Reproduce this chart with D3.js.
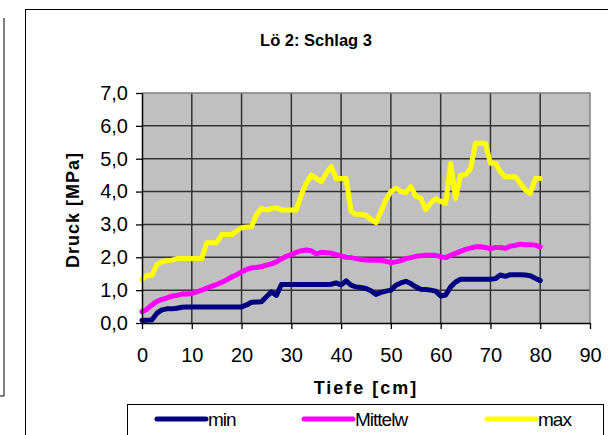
<!DOCTYPE html>
<html><head><meta charset="utf-8">
<script src="https://cdn.jsdelivr.net/npm/d3@7"></script>
<style>body{margin:0;background:#fff;}svg{display:block;font-family:"Liberation Sans",Arial,sans-serif;}</style>
</head><body>
<svg id="c" width="608" height="435"></svg>
<script>
const depth = d3.range(0, 81);
const minVals = [0.08,0.08,0.10,0.30,0.40,0.43,0.43,0.45,0.48,0.49,
  0.49,0.49,0.49,0.49,0.49,0.49,0.49,0.49,0.49,0.49,
  0.49,0.55,0.63,0.64,0.65,0.80,0.95,0.84,1.17,1.17,
  1.17,1.17,1.17,1.17,1.17,1.17,1.17,1.17,1.18,1.22,
  1.16,1.28,1.15,1.10,1.08,1.05,0.98,0.87,0.93,0.97,
  1.00,1.15,1.22,1.27,1.20,1.10,1.03,1.02,1.00,0.97,
  0.82,0.85,1.10,1.25,1.33,1.33,1.33,1.33,1.33,1.33,
  1.33,1.35,1.46,1.42,1.47,1.47,1.47,1.46,1.44,1.36,1.29];
const meanVals = [0.34,0.42,0.55,0.66,0.72,0.76,0.82,0.84,0.88,0.88,
  0.90,0.95,1.00,1.06,1.12,1.17,1.24,1.31,1.40,1.47,
  1.55,1.63,1.68,1.69,1.72,1.76,1.80,1.86,1.95,2.03,
  2.08,2.15,2.20,2.22,2.20,2.10,2.15,2.14,2.13,2.08,
  2.04,2.00,1.99,1.96,1.93,1.92,1.91,1.91,1.91,1.88,
  1.84,1.86,1.90,1.96,1.99,2.03,2.05,2.06,2.06,2.06,
  2.02,1.99,2.06,2.12,2.18,2.24,2.28,2.32,2.32,2.30,
  2.26,2.30,2.30,2.27,2.34,2.36,2.40,2.38,2.38,2.37,2.32];
const maxVals = [1.32,1.45,1.45,1.78,1.86,1.90,1.91,1.96,1.96,1.96,
  1.96,1.96,1.96,2.44,2.44,2.44,2.69,2.69,2.69,2.80,
  2.90,2.92,2.93,3.30,3.49,3.44,3.48,3.51,3.44,3.44,
  3.44,3.44,3.90,4.25,4.50,4.40,4.30,4.55,4.76,4.40,
  4.40,4.40,3.40,3.30,3.30,3.28,3.15,3.05,3.40,3.75,
  4.00,4.10,4.00,3.97,4.15,3.85,3.80,3.45,3.65,3.78,
  3.70,3.64,4.86,3.79,4.50,4.52,4.70,5.47,5.47,5.47,
  4.86,4.86,4.60,4.45,4.45,4.45,4.25,4.05,3.94,4.40,4.40];
const seriesNames = ["min", "Mittelw", "max"];
const seriesColors = ["#000080", "#FF00FF", "#FFFF00"];
const xTicks = [0,10,20,30,40,50,60,70,80,90];
const yTicks = [0,1,2,3,4,5,6,7];
const titleText = "Lö 2: Schlag 3";
const xLabel = "Tiefe [cm]";
const yLabel = "Druck [MPa]";

const svg = d3.select("#c");
const fmt = v => d3.format(".1f")(v).replace(".", ",");
const FF = "Liberation Sans, Arial, sans-serif";

svg.append("path").attr("d","M4,18V396H0").attr("fill","none").attr("stroke","#000").attr("stroke-width",1);
svg.append("rect").attr("x",25.5).attr("y",9.5).attr("width",700).attr("height",500)
  .attr("fill","#fff").attr("stroke","#000").attr("stroke-width",1);

const L=142, R=590, T=93, B=323;
const x = d3.scaleLinear().domain([0,90]).range([L,R]);
const y = d3.scaleLinear().domain([0,7]).range([B,T]);

svg.append("rect").attr("x",L).attr("y",T).attr("width",R-L).attr("height",B-T).attr("fill","#C0C0C0");
const g = svg.append("g");
g.selectAll(".hx").data(yTicks.slice(1,-1)).join("line")
  .attr("x1",L).attr("x2",R).attr("y1",d=>y(d)).attr("y2",d=>y(d))
  .attr("stroke","#333").attr("stroke-width",1.5);
g.selectAll(".vx").data(xTicks.slice(1,-1)).join("line")
  .attr("y1",T).attr("y2",B).attr("x1",d=>x(d)).attr("x2",d=>x(d))
  .attr("stroke","#333").attr("stroke-width",1.5);
svg.append("path").attr("d",`M${L},${T}H${R}V${B}`).attr("fill","none").attr("stroke","#808080").attr("stroke-width",1.5);

const line = d3.line().x((d,i)=>x(depth[i])).y(d=>y(d));
[minVals, meanVals, maxVals].forEach((vals,k)=>{
  svg.append("path").datum(vals).attr("d",line).attr("fill","none")
    .attr("stroke",seriesColors[k]).attr("stroke-width",5).attr("stroke-linejoin","round").attr("stroke-linecap","round");
});

const ax = svg.append("g").attr("transform",`translate(0,${B})`)
  .call(d3.axisBottom(x).tickValues(xTicks).tickSize(6).tickSizeOuter(0).tickPadding(19));
const ay = svg.append("g").attr("transform",`translate(${L},0)`)
  .call(d3.axisLeft(y).tickValues(yTicks).tickFormat(fmt).tickSize(6).tickSizeOuter(0).tickPadding(8));
[ax,ay].forEach(a=>{
  a.attr("font-size",20).attr("font-family",FF);
  a.select(".domain").attr("stroke","#000").attr("stroke-width",1.5);
  a.selectAll(".tick line").attr("stroke","#000").attr("stroke-width",1.3);
  a.selectAll("text").attr("fill","#000");
});

svg.append("text").attr("x",316).attr("y",46).attr("text-anchor","middle")
  .attr("font-size",16.5).attr("font-weight","bold").text(titleText);
svg.append("text").attr("x",366).attr("y",394).attr("text-anchor","middle")
  .attr("font-size",18).attr("font-weight","bold").attr("letter-spacing",2).text(xLabel);
svg.append("text").attr("transform","translate(79,210) rotate(-90)").attr("text-anchor","middle")
  .attr("font-size",18).attr("font-weight","bold").attr("letter-spacing",1).text(yLabel);

svg.append("rect").attr("x",127.5).attr("y",404.5).attr("width",476).attr("height",60)
  .attr("fill","#fff").attr("stroke","#000").attr("stroke-width",1);
const legX = [157, 304, 487];
seriesNames.forEach((n,k)=>{
  svg.append("line").attr("x1",legX[k]).attr("x2",legX[k]+49).attr("y1",419).attr("y2",419)
    .attr("stroke",seriesColors[k]).attr("stroke-width",5).attr("stroke-linecap","round");
  svg.append("text").attr("x",legX[k]+51).attr("y",426).attr("font-size",19).attr("letter-spacing",-1).text(n);
});
</script>
</body></html>
